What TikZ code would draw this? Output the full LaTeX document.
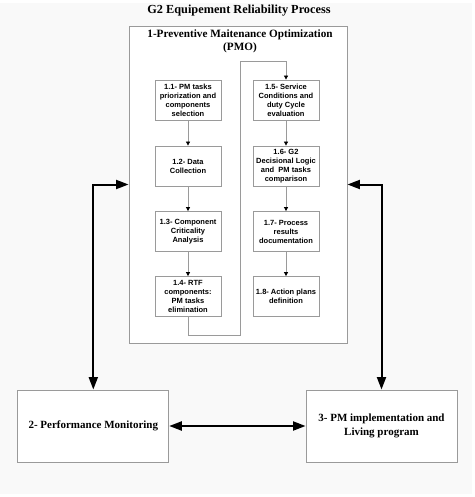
\documentclass[tikz,border=0pt]{standalone}
\usepackage{fontspec}
\setmainfont{Liberation Serif}
\newfontfamily\hv{Liberation Sans}
\usetikzlibrary{arrows.meta}
\definecolor{bgc}{HTML}{F9F9F9}
\definecolor{linec}{HTML}{9A9A9A}
\tikzset{
  inbox/.style={draw=linec, line width=0.8pt, fill=white, minimum width=66pt, minimum height=40pt, inner sep=1pt,
    align=center, font=\hv\bfseries\fontsize{7.5}{9}\selectfont},
  bigbox/.style={draw=linec, line width=0.9pt, fill=white, minimum width=151pt, minimum height=72pt, inner sep=2pt,
    align=center, font=\bfseries\fontsize{11}{13.4}\selectfont},
  pmobox/.style={draw=linec, line width=0.9pt, fill=white, minimum width=218pt, minimum height=317pt, inner sep=0pt},
  flow/.style={draw=linec, line width=0.8pt, -{Triangle[length=4pt,width=4pt,color=black]}},
  link/.style={line width=2pt, {Triangle[length=12.5pt,width=9pt]}-{Triangle[length=12.5pt,width=9pt]}}
}
\begin{document}
\begin{tikzpicture}[x=1pt,y=-1pt]
\useasboundingbox (0,0) rectangle (474,497);
\fill[white] (0,0) rectangle (474,497);
\fill[bgc] (0,3) rectangle (472,494);
\node[font=\bfseries\fontsize{12.3}{14}\selectfont] (title) at (239,11) {G2 Equipement Reliability Process};
\node[pmobox] (pmo) at (238,184.5) {};
\node[font=\bfseries\fontsize{11.2}{13}\selectfont, align=center] (pmotitle) at (240,41.5) {1-Preventive Maitenance Optimization\\(PMO)};
\node[inbox] (b11) at (188,100) {1.1- PM tasks\\priorization and\\components\\selection};
\node[inbox] (b12) at (188,166) {1.2- Data\\Collection};
\node[inbox] (b13) at (188,231.5) {1.3- Component\\Criticality\\Analysis};
\node[inbox] (b14) at (188,296.5) {1.4- RTF\\components:\\PM tasks\\elimination};
\node[inbox] (b15) at (286,100) {1.5- Service\\Conditions and\\duty Cycle\\evaluation};
\node[inbox] (b16) at (286,166) {1.6- G2\\Decisional Logic\\and\ \ PM tasks\\comparison};
\node[inbox] (b17) at (286,231.5) {1.7- Process\\results\\documentation};
\node[inbox] (b18) at (286,296.5) {1.8- Action plans\\definition};
\node[bigbox] (b2) at (93.3,426) {2- Performance Monitoring};
\node[bigbox] (b3) at (381.5,426) {3- PM implementation and\\Living program};
\coordinate (l1) at (188,335.7);
\coordinate (l2) at (240.5,335.7);
\coordinate (l3) at (240.5,61);
\coordinate (l4) at (286,61);
\draw[flow] (b11) -- (b12);
\draw[flow] (b12) -- (b13);
\draw[flow] (b13) -- (b14);
\draw[flow] (b15) -- (b16);
\draw[flow] (b16) -- (b17);
\draw[flow] (b17) -- (b18);
\draw[flow] (b14.south) -- (l1) -- (l2) -- (l3) -- (l4) -- (b15.north);
\draw[link] (pmo.west) -| (b2.north);
\draw[link] (pmo.east) -| (b3.north);
\draw[link] (b2.east) -- (b3.west);
\end{tikzpicture}
\end{document}
